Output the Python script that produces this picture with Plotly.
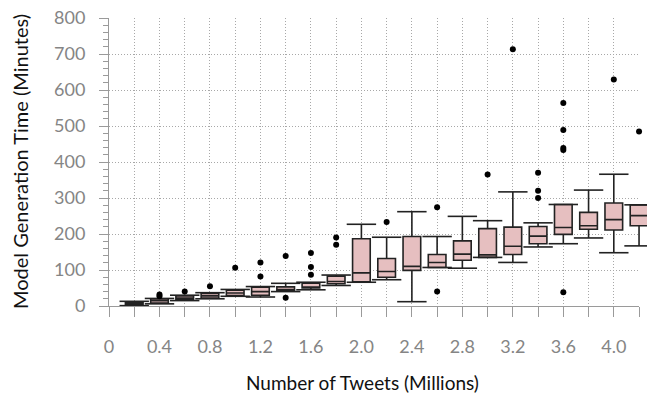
import plotly.graph_objects as go

# ---- data ----
positions = [0.2, 0.4, 0.6, 0.8, 1.0, 1.2, 1.4, 1.6, 1.8, 2.0, 2.2,
             2.4, 2.6, 2.8, 3.0, 3.2, 3.4, 3.6, 3.8, 4.0, 4.2]
q1 = [3, 8, 17, 22, 29, 30, 42, 50, 62, 67, 80, 99, 107, 127, 135, 143, 173, 199, 213, 211, 223]
median = [7, 15, 22, 28, 36, 40, 46, 52, 68, 92, 96, 110, 121, 144, 142, 166, 194, 218, 223, 240, 251]
q3 = [11, 20, 28, 35, 44, 52, 53, 63, 83, 187, 132, 193, 143, 181, 215, 219, 221, 282, 260, 286, 281]
lower_fence = [1, 6, 15, 20, 27, 25, 40, 45, 57, 66, 73, 12, 107, 105, 135, 121, 164, 173, 189, 148, 167]
upper_fence = [13, 21, 30, 37, 46, 54, 63, 66, 86, 227, 191, 262, 193, 249, 237, 317, 231, 282, 322, 366, 281]

outlier_x = [0.4, 0.4, 0.6, 0.8, 1.0, 1.2, 1.2, 1.4, 1.4, 1.6, 1.6, 1.6, 1.8, 1.8,
             2.2, 2.6, 2.6, 3.0, 3.2, 3.4, 3.4, 3.4, 3.6, 3.6, 3.6, 3.6, 3.6, 4.0, 4.2]
outlier_y = [32, 27, 40, 55, 106, 121, 82, 139, 23, 147, 108, 87, 190, 170,
             233, 274, 40, 365, 713, 370, 320, 300, 564, 489, 439, 433, 38, 629, 485]

x_tickvals = [0.0, 0.2, 0.4, 0.6, 0.8, 1.0, 1.2, 1.4, 1.6, 1.8, 2.0, 2.2,
              2.4, 2.6, 2.8, 3.0, 3.2, 3.4, 3.6, 3.8, 4.0, 4.2]
x_ticktext = ["0", "", "0.4", "", "0.8", "", "1.2", "", "1.6", "", "2.0", "",
              "2.4", "", "2.8", "", "3.2", "", "3.6", "", "4.0", ""]
y_tickvals = [0, 100, 200, 300, 400, 500, 600, 700, 800]

x_title = "Number of Tweets (Millions)"
y_title = "Model Generation Time (Minutes)"

# ---- geometry ----
W, H = 647, 394
L, R, T, B = 109, 0, 18, 88
plot_w = W - L - R
plot_h = H - T - B
px_per_unit = 126.2
vis_frac = (4.2 * px_per_unit) / plot_w

FONT = "Lato, 'Open Sans', sans-serif"
LINE = "#222222"
GRID = "#a8a8a8"
AXIS = "#9a9a9a"
TICKFONT = dict(family=FONT, size=18, color="#858585")
DOT = "1px,2px"

fig = go.Figure()

# dummy trace to keep visible axes subplot
fig.add_trace(go.Scatter(x=[], y=[], xaxis="x", yaxis="y", showlegend=False, hoverinfo="skip"))

fig.add_trace(go.Box(
    x=positions, q1=q1, median=median, q3=q3,
    lowerfence=lower_fence, upperfence=upper_fence,
    boxpoints=False, width=0.14, whiskerwidth=0,
    fillcolor="#e6bfc0", line=dict(color=LINE, width=1.6),
    xaxis="x2", yaxis="y2", showlegend=False,
))

# whisker caps (wider than the box)
fig.add_trace(go.Scatter(
    x=positions + positions, y=lower_fence + upper_fence,
    mode="markers", xaxis="x2", yaxis="y2", showlegend=False,
    marker=dict(symbol="line-ew", size=21, line=dict(color=LINE, width=1.6)),
    hoverinfo="skip",
))

fig.add_trace(go.Scatter(
    x=outlier_x, y=outlier_y, mode="markers", xaxis="x2", yaxis="y2",
    showlegend=False, marker=dict(color="#000000", size=6),
))

fig.update_layout(
    width=W, height=H,
    margin=dict(l=L, r=R, t=T, b=B, autoexpand=False),
    paper_bgcolor="white", plot_bgcolor="rgba(0,0,0,0)",
    xaxis=dict(
        domain=[0, vis_frac], range=[0, 4.2], anchor="y",
        tickmode="array", tickvals=x_tickvals, ticktext=x_ticktext,
        ticks="outside", ticklen=10, tickcolor=AXIS, tickwidth=1,
        ticklabelstandoff=14,
        showline=True, linecolor=AXIS, linewidth=1,
        showgrid=True, gridcolor=GRID, griddash=DOT, gridwidth=1,
        zeroline=False, tickfont=TICKFONT,
    ),
    yaxis=dict(
        domain=[0, 1], range=[0, 800], anchor="x",
        tickmode="array", tickvals=y_tickvals,
        ticks="outside", ticklen=9, tickcolor=AXIS, tickwidth=1,
        ticklabelstandoff=10,
        minor=dict(dtick=20, ticks="outside", ticklen=5, tickcolor=AXIS, showgrid=False),
        showline=True, linecolor=AXIS, linewidth=1,
        showgrid=True, gridcolor=GRID, griddash=DOT, gridwidth=1,
        zeroline=False, tickfont=TICKFONT,
    ),
    xaxis2=dict(domain=[0, 1], range=[0, plot_w / px_per_unit], anchor="y2",
                visible=False, showgrid=False, zeroline=False),
    yaxis2=dict(domain=[0, 1], range=[0, 800], anchor="x2",
                visible=False, showgrid=False, zeroline=False),
    annotations=[
        dict(text=x_title, xref="paper", yref="paper",
             x=(362 - L) / plot_w, y=(H - B - 382) / plot_h,
             xanchor="center", yanchor="middle", showarrow=False,
             font=dict(family=FONT, size=19, color="#111111")),
        dict(text=y_title, xref="paper", yref="paper",
             x=(20 - L) / plot_w, y=0.5, textangle=-90,
             xanchor="center", yanchor="middle", showarrow=False,
             font=dict(family=FONT, size=20, color="#111111")),
    ],
)

fig.write_html("out.html", config={"displayModeBar": False},
               post_script="document.body.style.margin='0';document.body.style.padding='0';")
